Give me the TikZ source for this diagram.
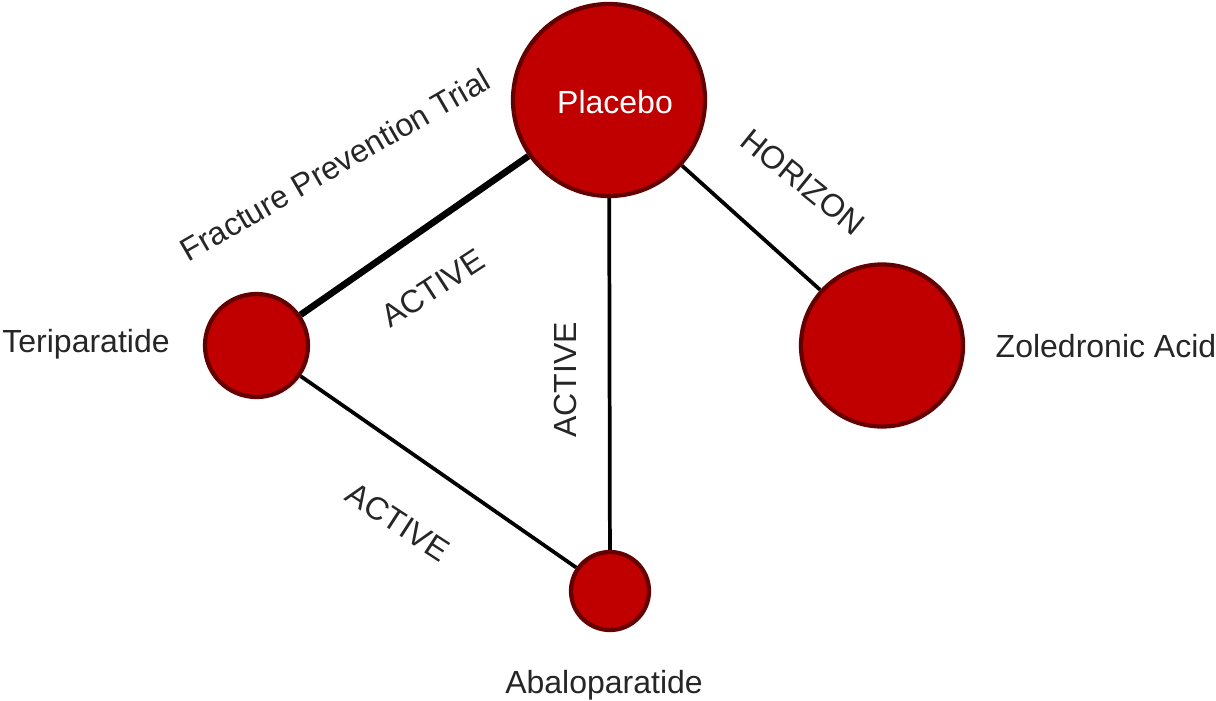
\documentclass[tikz,border=0pt]{standalone}
\usepackage{fontspec}
\setmainfont{Liberation Sans}
\usetikzlibrary{backgrounds}
\definecolor{nodefill}{HTML}{C00000}
\definecolor{nodeline}{HTML}{640000}
\definecolor{txt}{HTML}{262626}
\tikzset{
  trt/.style={circle, fill=nodefill, draw=nodeline, line width=3.2pt, inner sep=0pt},
  lbl/.style={font=\fontsize{24pt}{28pt}\selectfont, text=txt, inner sep=0pt},
  thinedge/.style={line width=2.8pt, black},
  thickedge/.style={line width=5pt, black}
}
\begin{document}
\begin{tikzpicture}[x=0.75pt,y=-0.75pt]
\useasboundingbox (0,0) rectangle (1216,700);
\node[trt, minimum size=144pt] (P) at (609,100) {};
\node[trt, minimum size=77.25pt] (T) at (256.5,345.5) {};
\node[trt, minimum size=121.5pt] (Z) at (882,345.5) {};
\node[trt, minimum size=58.5pt] (A) at (610,591) {};
\node[lbl, text=white] (Pl) at (615,102) {Placebo};
\node[lbl] (Tl) at (86,344) {Teriparatide};
\node[lbl] (Zl) at (1106,346) {Zoledronic Acid};
\node[lbl] (Al) at (604,685) {Abaloparatide};
\begin{scope}[on background layer]
\draw[thickedge] (P) -- (T);
\draw[thinedge] (P) -- (A);
\draw[thinedge] (P) -- (Z);
\draw[thinedge] (T) -- (A);
\end{scope}
\node[lbl, rotate=30] (e1) at (335,165) {Fracture Prevention Trial};
\node[lbl, rotate=33] (e2) at (433,288) {ACTIVE};
\node[lbl, rotate=90] (e3) at (565,380) {ACTIVE};
\node[lbl, rotate=-39] (e4) at (803,182) {HORIZON};
\node[lbl, rotate=-33] (e5) at (398,522) {ACTIVE};
\end{tikzpicture}
\end{document}
